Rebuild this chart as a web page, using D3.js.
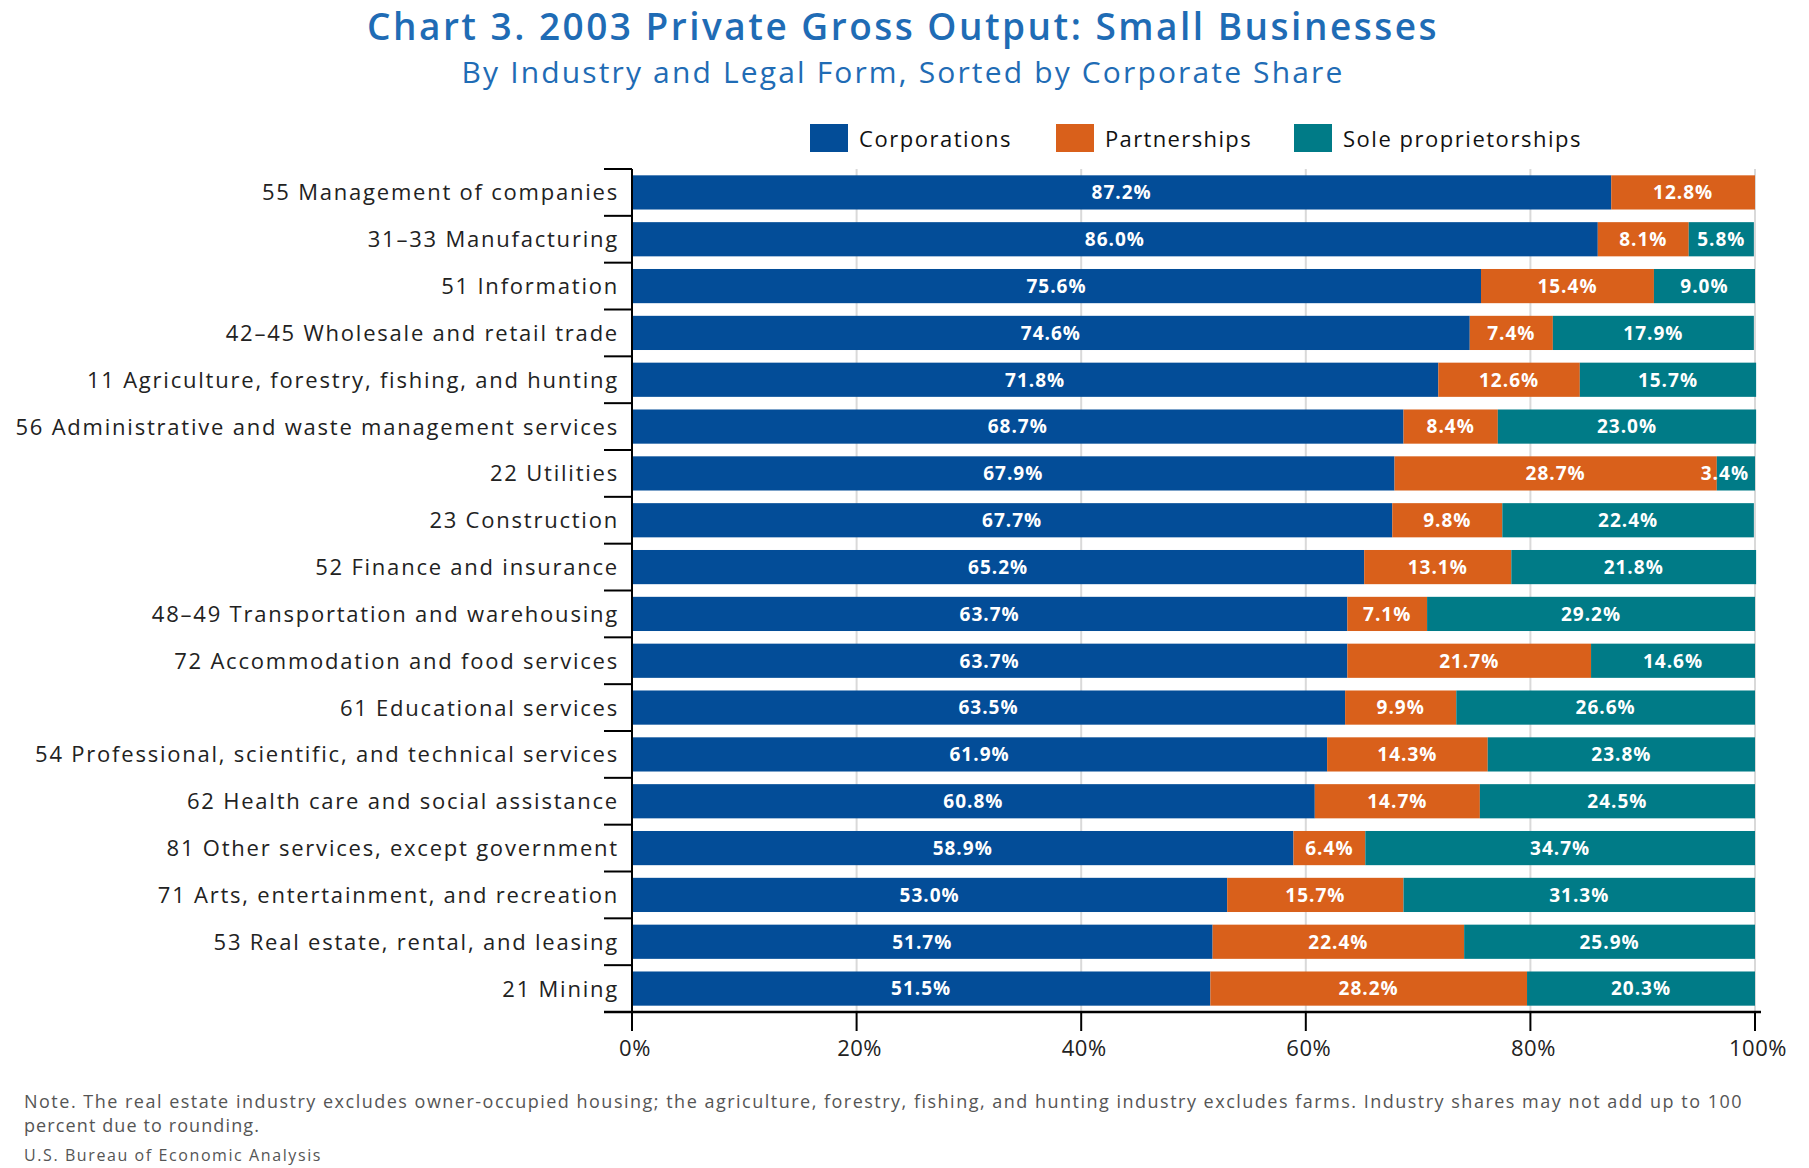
<!DOCTYPE html>
<html>
<head>
<meta charset="utf-8">
<script src="https://cdn.jsdelivr.net/npm/d3@7"></script>
<style>
  html, body { margin: 0; padding: 0; background: #fff; }
  svg { display: block; }
  text { font-family: "Open Sans", "DejaVu Sans", sans-serif; }
</style>
</head>
<body>
<svg id="chart" width="1809" height="1168"></svg>
<script>
// ---------- Data ----------
const industries = [
  "55 Management of companies",
  "31\u201333 Manufacturing",
  "51 Information",
  "42\u201345 Wholesale and retail trade",
  "11 Agriculture, forestry, fishing, and hunting",
  "56 Administrative and waste management services",
  "22 Utilities",
  "23 Construction",
  "52 Finance and insurance",
  "48\u201349 Transportation and warehousing",
  "72 Accommodation and food services",
  "61 Educational services",
  "54 Professional, scientific, and technical services",
  "62 Health care and social assistance",
  "81 Other services, except government",
  "71 Arts, entertainment, and recreation",
  "53 Real estate, rental, and leasing",
  "21 Mining"
];
const corporations = [87.2, 86.0, 75.6, 74.6, 71.8, 68.7, 67.9, 67.7, 65.2, 63.7, 63.7, 63.5, 61.9, 60.8, 58.9, 53.0, 51.7, 51.5];
const partnerships = [12.8, 8.1, 15.4, 7.4, 12.6, 8.4, 28.7, 9.8, 13.1, 7.1, 21.7, 9.9, 14.3, 14.7, 6.4, 15.7, 22.4, 28.2];
const soleProprietorships = [0, 5.8, 9.0, 17.9, 15.7, 23.0, 3.4, 22.4, 21.8, 29.2, 14.6, 26.6, 23.8, 24.5, 34.7, 31.3, 25.9, 20.3];
const seriesNames = ["Corporations", "Partnerships", "Sole proprietorships"];
const xTicks = [0, 20, 40, 60, 80, 100];

const titleText = "Chart 3. 2003 Private Gross Output: Small Businesses";
const subtitleText = "By Industry and Legal Form, Sorted by Corporate Share";
const noteLines = [
  "Note. The real estate industry excludes owner-occupied housing; the agriculture, forestry, fishing, and hunting industry excludes farms. Industry shares may not add up to 100",
  "percent due to rounding."
];
const sourceText = "U.S. Bureau of Economic Analysis";

// ---------- Layout ----------
const colors = ["#034d98", "#d9601b", "#007b87"];
const svg = d3.select("#chart");
const margin = { left: 632, top: 169 };
const xEnd = 1755, yEnd = 1012;

// helper: stretch letter spacing so text reaches target width
function fitWidth(sel, target) {
  sel.each(function () {
    const n = this.getNumberOfChars();
    const w = this.getComputedTextLength();
    if (n > 1) d3.select(this).attr("letter-spacing", (target - w) / n);
  });
}

// Title
svg.append("text")
  .attr("x", 903).attr("y", 40)
  .attr("text-anchor", "middle")
  .attr("fill", "#1f6cb5")
  .attr("font-size", 37).attr("font-weight", 600)
  .text(titleText)
  .call(fitWidth, 1072);

svg.append("text")
  .attr("x", 903).attr("y", 83)
  .attr("text-anchor", "middle")
  .attr("fill", "#1f6cb5")
  .attr("font-size", 30)
  .text(subtitleText)
  .call(fitWidth, 883);

// Scales
const x = d3.scaleLinear().domain([0, 100]).range([margin.left, xEnd]);
const y = d3.scaleBand().domain(industries).range([margin.top, yEnd])
  .paddingInner(0.27).paddingOuter(0.135);

// Gridlines
svg.append("g").selectAll("line")
  .data(xTicks.filter(d => d > 0))
  .join("line")
  .attr("x1", d => x(d)).attr("x2", d => x(d))
  .attr("y1", margin.top).attr("y2", yEnd)
  .attr("stroke", "#d9d9d9").attr("stroke-width", 2);

// Stacked data
const rows = industries.map((name, i) => ({
  name,
  Corporations: corporations[i],
  Partnerships: partnerships[i],
  "Sole proprietorships": soleProprietorships[i]
}));
const stacked = d3.stack().keys(seriesNames)(rows);

const layers = svg.append("g").selectAll("g")
  .data(stacked)
  .join("g")
  .attr("fill", (d, i) => colors[i]);

layers.selectAll("rect")
  .data(d => d)
  .join("rect")
  .attr("x", d => x(d[0]))
  .attr("width", d => Math.max(0, x(d[1]) - x(d[0])))
  .attr("y", d => y(d.data.name))
  .attr("height", y.bandwidth());

// Value labels
const labelG = svg.append("g");
stacked.forEach((layer, si) => {
  layer.forEach(d => {
    const v = d[1] - d[0];
    if (v <= 0.001) return;
    const t = labelG.append("text")
      .attr("y", y(d.data.name) + y.bandwidth() / 2)
      .attr("dy", "0.36em")
      .attr("text-anchor", "middle")
      .attr("fill", "#fff")
      .attr("font-size", 19).attr("font-weight", 700)
      .attr("letter-spacing", 1)
      .text(d.data[seriesNames[si]].toFixed(1) + "%");
    const w = t.node().getComputedTextLength();
    let cx = (x(d[0]) + x(d[1])) / 2;
    cx = Math.min(cx, x(100) - w / 2 - 6);
    t.attr("x", cx);
  });
});

// Y axis
const yAxisG = svg.append("g");
const bounds = industries.map(n => y(n) - y.step() * y.paddingInner() / 2);
bounds.push(yEnd);
yAxisG.selectAll("line.tick")
  .data(bounds)
  .join("line")
  .attr("class", "tick")
  .attr("x1", 604).attr("x2", margin.left)
  .attr("y1", d => d).attr("y2", d => d)
  .attr("stroke", "#000").attr("stroke-width", 2);
yAxisG.append("line")
  .attr("x1", margin.left).attr("x2", margin.left)
  .attr("y1", margin.top).attr("y2", 1031)
  .attr("stroke", "#000").attr("stroke-width", 2);
const yLabels = yAxisG.selectAll("text")
  .data(industries)
  .join("text")
  .attr("x", 619)
  .attr("y", d => y(d) + y.bandwidth() / 2)
  .attr("dy", "0.36em")
  .attr("text-anchor", "end")
  .attr("fill", "#222")
  .attr("font-size", 22)
  .text(d => d);
{
  const first = yLabels.nodes()[0];
  const ls = (357 - first.getComputedTextLength()) / first.getNumberOfChars();
  yLabels.attr("letter-spacing", ls);
}

// X axis
const xAxisG = svg.append("g");
xAxisG.append("line")
  .attr("x1", 604).attr("x2", 1761)
  .attr("y1", yEnd).attr("y2", yEnd)
  .attr("stroke", "#000").attr("stroke-width", 2.5);
xAxisG.selectAll("line.tick")
  .data(xTicks)
  .join("line")
  .attr("class", "tick")
  .attr("x1", d => x(d)).attr("x2", d => x(d))
  .attr("y1", yEnd).attr("y2", 1031)
  .attr("stroke", "#000").attr("stroke-width", 2);
xAxisG.selectAll("text")
  .data(xTicks)
  .join("text")
  .attr("x", d => x(d) + 3)
  .attr("y", 1048)
  .attr("dy", "0.36em")
  .attr("text-anchor", "middle")
  .attr("fill", "#222")
  .attr("font-size", 22)
  .attr("letter-spacing", 0.5)
  .text(d => d + "%");

// Legend
const legendX = [810, 1056, 1294];
const legendTextW = [153, 147, 239];
const legend = svg.append("g");
seriesNames.forEach((name, i) => {
  legend.append("rect")
    .attr("x", legendX[i]).attr("y", 124)
    .attr("width", 38).attr("height", 28)
    .attr("fill", colors[i]);
  legend.append("text")
    .attr("x", legendX[i] + 49).attr("y", 139)
    .attr("dy", "0.36em")
    .attr("fill", "#111")
    .attr("font-size", 22)
    .text(name)
    .call(fitWidth, legendTextW[i]);
});

// Notes
svg.append("text")
  .attr("x", 24).attr("y", 1108)
  .attr("fill", "#555").attr("font-size", 18)
  .text(noteLines[0])
  .call(fitWidth, 1719);
svg.append("text")
  .attr("x", 24).attr("y", 1132)
  .attr("fill", "#555").attr("font-size", 18)
  .text(noteLines[1])
  .call(fitWidth, 236);
svg.append("text")
  .attr("x", 24).attr("y", 1161)
  .attr("fill", "#555").attr("font-size", 16)
  .text(sourceText)
  .call(fitWidth, 298);
</script>
</body>
</html>
